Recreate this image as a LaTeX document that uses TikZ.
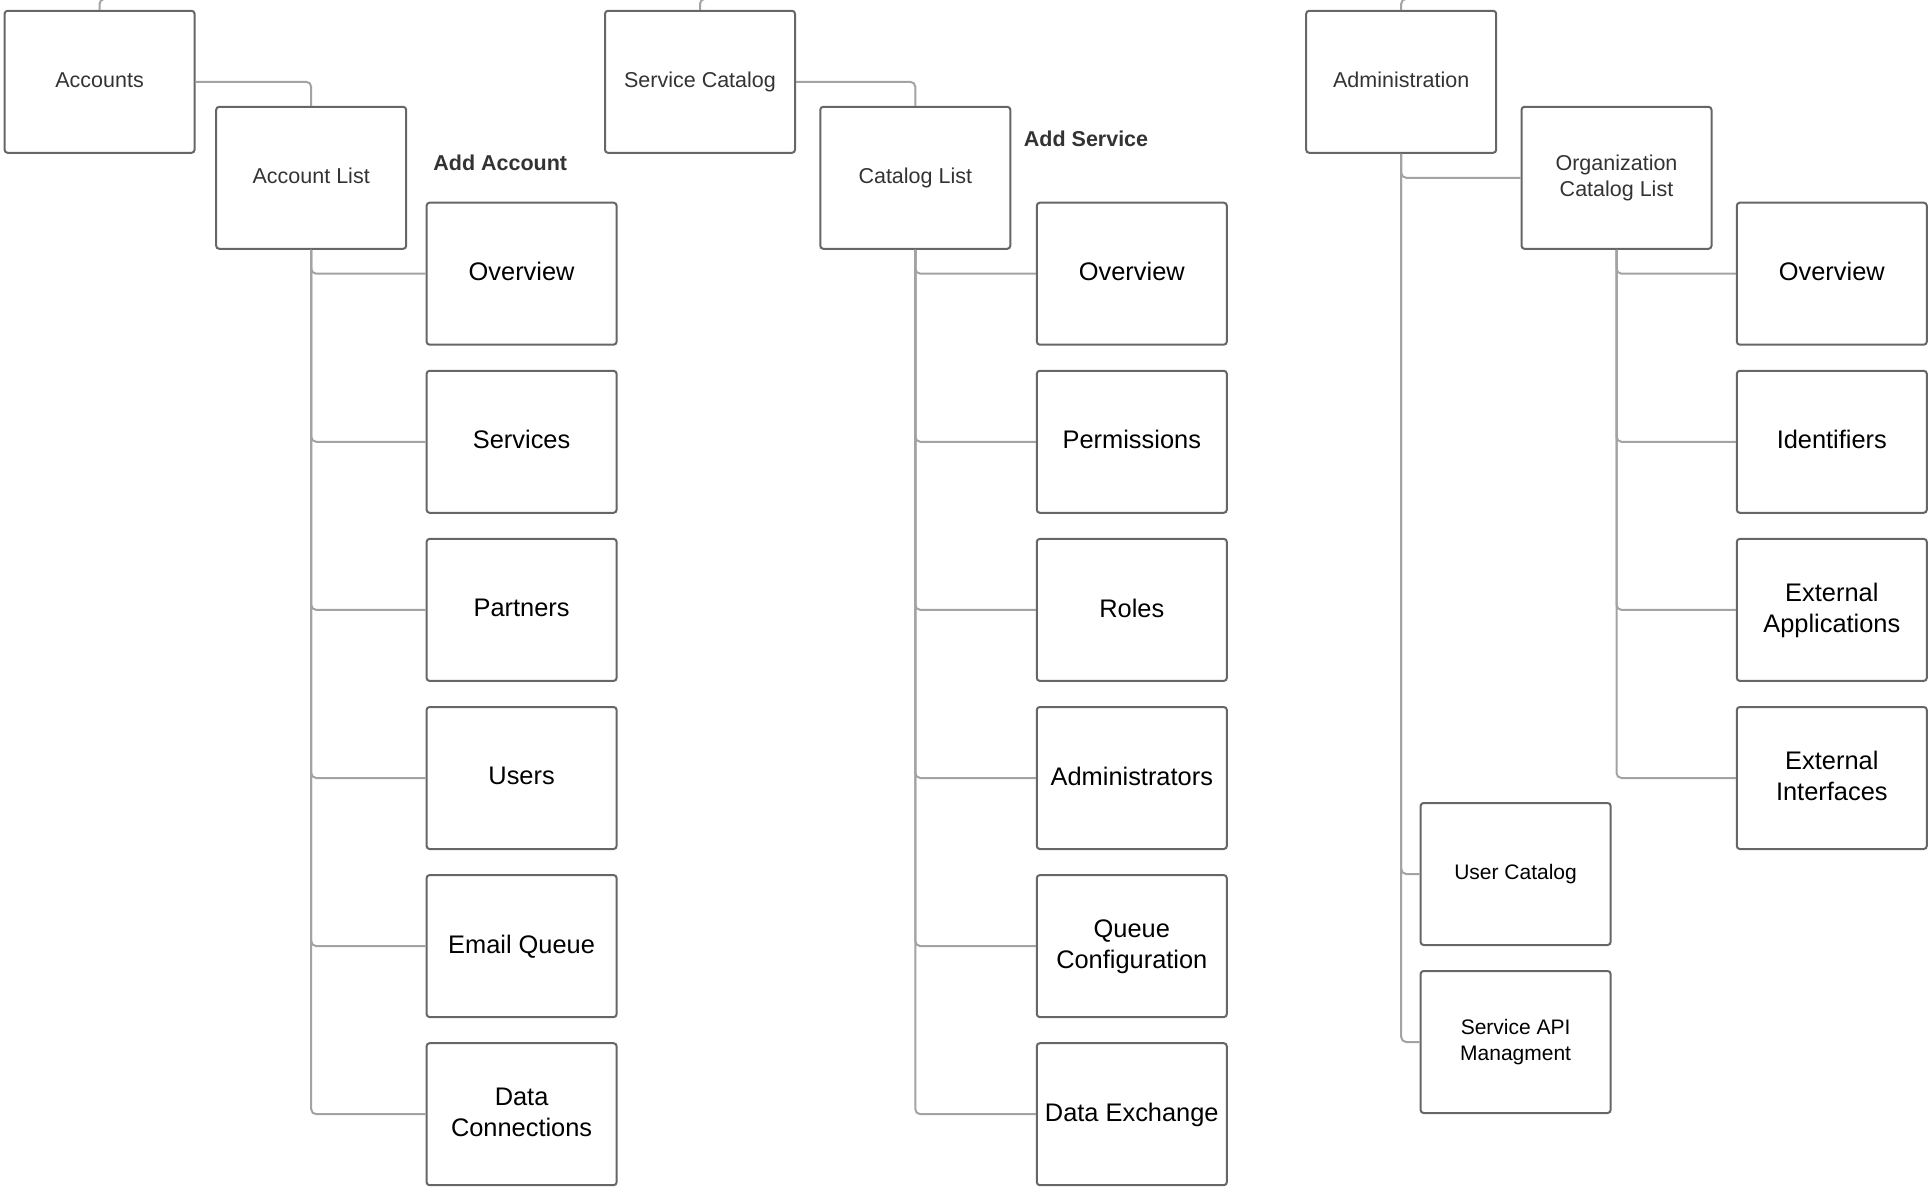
\documentclass[tikz,border=0pt]{standalone}
\usepackage{fontspec}
\setmainfont{Liberation Sans}
\definecolor{boxgray}{RGB}{102,102,102}
\definecolor{linkgray}{RGB}{163,163,163}
\definecolor{textgray}{RGB}{51,51,51}
\tikzset{
  topbox/.style={rectangle, draw=boxgray, line width=1pt, rounded corners=1.5pt,
    minimum width=95pt, minimum height=71pt, inner sep=0pt, align=center,
    text depth=0.21em, font=\fontsize{10.75}{12.9}\selectfont, text=textgray},
  pagebox/.style={topbox, font=\fontsize{12.7}{15.3}\selectfont, text=black},
  subbox/.style={topbox, font=\fontsize{10.5}{12.9}\selectfont, text=black},
  addlabel/.style={anchor=west, inner sep=0pt, text=textgray,
    font=\fontsize{10.75}{12.9}\selectfont\bfseries},
  link/.style={draw=linkgray, line width=1pt, rounded corners=2.5pt},
}
\begin{document}
\begin{tikzpicture}[x=0.5pt, y=-0.5pt]
    \useasboundingbox (0,0) rectangle (1929,1188);
    % accounts
    \node (acc) at (99.6,81.8) [topbox] {Accounts};
    \node (acclist) at (311.2,177.8) [topbox] {Account List};
    \node (addacc) at (433,162.4) [addlabel] {Add Account};
    \node (acc1) at (521.6,273.7) [pagebox] {Overview};
    \node (acc2) at (521.6,441.8) [pagebox] {Services};
    \node (acc3) at (521.6,609.9) [pagebox] {Partners};
    \node (acc4) at (521.6,778.0) [pagebox] {Users};
    \node (acc5) at (521.6,946.1) [pagebox] {Email Queue};
    \node (acc6) at (521.6,1114.2) [pagebox] {Data\\Connections};
    \draw[link] (acc.north) |- ++(24,-11);
    \draw[link] (acc.east) -| (acclist.north);
    \draw[link] (acclist.south) |- (acc1.west);
    \draw[link] (acclist.south) |- (acc2.west);
    \draw[link] (acclist.south) |- (acc3.west);
    \draw[link] (acclist.south) |- (acc4.west);
    \draw[link] (acclist.south) |- (acc5.west);
    \draw[link] (acclist.south) |- (acc6.west);
    % service catalog
    \node (svc) at (700,81.8) [topbox] {Service Catalog};
    \node (svclist) at (915.3,177.8) [topbox] {Catalog List};
    \node (addsvc) at (1023.5,139) [addlabel] {Add Service};
    \node (svc1) at (1131.8,273.7) [pagebox] {Overview};
    \node (svc2) at (1131.8,441.8) [pagebox] {Permissions};
    \node (svc3) at (1131.8,609.9) [pagebox] {Roles};
    \node (svc4) at (1131.8,778.0) [pagebox] {Administrators};
    \node (svc5) at (1131.8,946.1) [pagebox] {Queue\\Configuration};
    \node (svc6) at (1131.8,1114.2) [pagebox] {Data Exchange};
    \draw[link] (svc.north) |- ++(24,-11);
    \draw[link] (svc.east) -| (svclist.north);
    \draw[link] (svclist.south) |- (svc1.west);
    \draw[link] (svclist.south) |- (svc2.west);
    \draw[link] (svclist.south) |- (svc3.west);
    \draw[link] (svclist.south) |- (svc4.west);
    \draw[link] (svclist.south) |- (svc5.west);
    \draw[link] (svclist.south) |- (svc6.west);
    % administration
    \node (admin) at (1401.2,81.8) [topbox] {Administration};
    \node (orglist) at (1616.5,177.8) [topbox] {Organization\\Catalog List};
    \node (org1) at (1831.8,273.7) [pagebox] {Overview};
    \node (org2) at (1831.8,441.8) [pagebox] {Identifiers};
    \node (org3) at (1831.8,609.9) [pagebox] {External\\Applications};
    \node (org4) at (1831.8,778.0) [pagebox] {External\\Interfaces};
    \node (usercat) at (1515.6,874) [subbox] {User Catalog};
    \node (svcapi) at (1515.6,1042) [subbox] {Service API\\Managment};
    \draw[link] (admin.north) |- ++(24,-11);
    \draw[link] (admin.south) |- (orglist.west);
    \draw[link] (admin.south) |- (usercat.west);
    \draw[link] (admin.south) |- (svcapi.west);
    \draw[link] (orglist.south) |- (org1.west);
    \draw[link] (orglist.south) |- (org2.west);
    \draw[link] (orglist.south) |- (org3.west);
    \draw[link] (orglist.south) |- (org4.west);
\end{tikzpicture}
\end{document}
